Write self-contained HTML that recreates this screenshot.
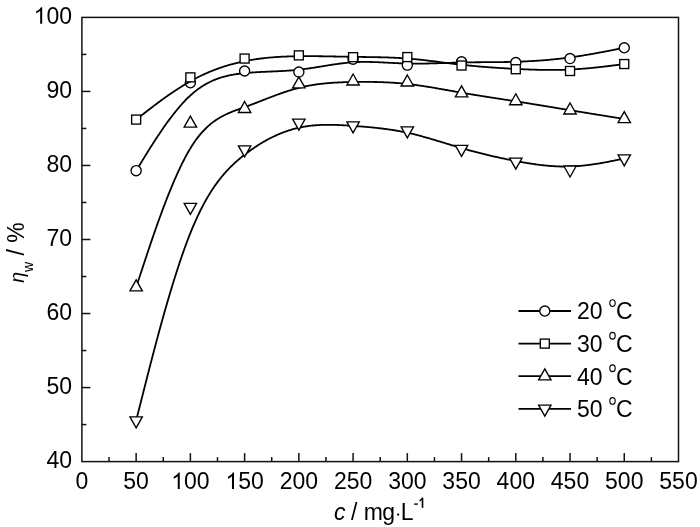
<!DOCTYPE html>
<html><head><meta charset="utf-8"><style>
html,body{margin:0;padding:0;background:#fff;}
svg{display:block;will-change:transform;}
text{font-family:"Liberation Sans", sans-serif;fill:#000;}
.t{font-size:23px;}
</style></head><body>
<svg width="700" height="527" viewBox="0 0 700 527">
<rect width="700" height="527" fill="#fff"/>
<rect x="81.9" y="17.4" width="596.6" height="444.20000000000005" fill="none" stroke="#111" stroke-width="1.5"/>
<line x1="109.02" y1="461.6" x2="109.02" y2="457.1" stroke="#111" stroke-width="1.5"/>
<line x1="136.14" y1="461.6" x2="136.14" y2="453.1" stroke="#111" stroke-width="1.5"/>
<line x1="163.25" y1="461.6" x2="163.25" y2="457.1" stroke="#111" stroke-width="1.5"/>
<line x1="190.37" y1="461.6" x2="190.37" y2="453.1" stroke="#111" stroke-width="1.5"/>
<line x1="217.49" y1="461.6" x2="217.49" y2="457.1" stroke="#111" stroke-width="1.5"/>
<line x1="244.61" y1="461.6" x2="244.61" y2="453.1" stroke="#111" stroke-width="1.5"/>
<line x1="271.73" y1="461.6" x2="271.73" y2="457.1" stroke="#111" stroke-width="1.5"/>
<line x1="298.85" y1="461.6" x2="298.85" y2="453.1" stroke="#111" stroke-width="1.5"/>
<line x1="325.96" y1="461.6" x2="325.96" y2="457.1" stroke="#111" stroke-width="1.5"/>
<line x1="353.08" y1="461.6" x2="353.08" y2="453.1" stroke="#111" stroke-width="1.5"/>
<line x1="380.20" y1="461.6" x2="380.20" y2="457.1" stroke="#111" stroke-width="1.5"/>
<line x1="407.32" y1="461.6" x2="407.32" y2="453.1" stroke="#111" stroke-width="1.5"/>
<line x1="434.44" y1="461.6" x2="434.44" y2="457.1" stroke="#111" stroke-width="1.5"/>
<line x1="461.55" y1="461.6" x2="461.55" y2="453.1" stroke="#111" stroke-width="1.5"/>
<line x1="488.67" y1="461.6" x2="488.67" y2="457.1" stroke="#111" stroke-width="1.5"/>
<line x1="515.79" y1="461.6" x2="515.79" y2="453.1" stroke="#111" stroke-width="1.5"/>
<line x1="542.91" y1="461.6" x2="542.91" y2="457.1" stroke="#111" stroke-width="1.5"/>
<line x1="570.03" y1="461.6" x2="570.03" y2="453.1" stroke="#111" stroke-width="1.5"/>
<line x1="597.15" y1="461.6" x2="597.15" y2="457.1" stroke="#111" stroke-width="1.5"/>
<line x1="624.26" y1="461.6" x2="624.26" y2="453.1" stroke="#111" stroke-width="1.5"/>
<line x1="651.38" y1="461.6" x2="651.38" y2="457.1" stroke="#111" stroke-width="1.5"/>
<line x1="81.9" y1="424.58" x2="86.4" y2="424.58" stroke="#111" stroke-width="1.5"/>
<line x1="81.9" y1="387.57" x2="90.4" y2="387.57" stroke="#111" stroke-width="1.5"/>
<line x1="81.9" y1="350.55" x2="86.4" y2="350.55" stroke="#111" stroke-width="1.5"/>
<line x1="81.9" y1="313.53" x2="90.4" y2="313.53" stroke="#111" stroke-width="1.5"/>
<line x1="81.9" y1="276.52" x2="86.4" y2="276.52" stroke="#111" stroke-width="1.5"/>
<line x1="81.9" y1="239.50" x2="90.4" y2="239.50" stroke="#111" stroke-width="1.5"/>
<line x1="81.9" y1="202.48" x2="86.4" y2="202.48" stroke="#111" stroke-width="1.5"/>
<line x1="81.9" y1="165.47" x2="90.4" y2="165.47" stroke="#111" stroke-width="1.5"/>
<line x1="81.9" y1="128.45" x2="86.4" y2="128.45" stroke="#111" stroke-width="1.5"/>
<line x1="81.9" y1="91.43" x2="90.4" y2="91.43" stroke="#111" stroke-width="1.5"/>
<line x1="81.9" y1="54.42" x2="86.4" y2="54.42" stroke="#111" stroke-width="1.5"/>
<text x="81.90" y="489" text-anchor="middle" class="t">0</text>
<text x="136.14" y="489" text-anchor="middle" class="t">50</text>
<text x="183.98" y="489" class="t">00</text>
<path d="M177.74,489.00 L179.76,489.00 L179.76,472.54 L178.45,472.54 L178.04,473.39 L177.26,474.23 L176.02,475.24 L174.90,475.97 L173.70,476.65 L173.70,478.65 L174.78,478.16 L176.13,477.38 L177.74,476.20 Z" fill="#000"/>
<text x="238.22" y="489" class="t">50</text>
<path d="M231.97,489.00 L234.00,489.00 L234.00,472.54 L232.68,472.54 L232.28,473.39 L231.49,474.23 L230.26,475.24 L229.13,475.97 L227.93,476.65 L227.93,478.65 L229.02,478.16 L230.37,477.38 L231.97,476.20 Z" fill="#000"/>
<text x="298.85" y="489" text-anchor="middle" class="t">200</text>
<text x="353.08" y="489" text-anchor="middle" class="t">250</text>
<text x="407.32" y="489" text-anchor="middle" class="t">300</text>
<text x="461.55" y="489" text-anchor="middle" class="t">350</text>
<text x="515.79" y="489" text-anchor="middle" class="t">400</text>
<text x="570.03" y="489" text-anchor="middle" class="t">450</text>
<text x="624.26" y="489" text-anchor="middle" class="t">500</text>
<text x="678.50" y="489" text-anchor="middle" class="t">550</text>
<text x="72" y="467.90" text-anchor="end" class="t">40</text>
<text x="72" y="393.87" text-anchor="end" class="t">50</text>
<text x="72" y="319.83" text-anchor="end" class="t">60</text>
<text x="72" y="245.80" text-anchor="end" class="t">70</text>
<text x="72" y="171.77" text-anchor="end" class="t">80</text>
<text x="72" y="97.73" text-anchor="end" class="t">90</text>
<text x="46.42" y="23.70" class="t">00</text>
<path d="M40.18,23.70 L42.20,23.70 L42.20,7.24 L40.89,7.24 L40.49,8.09 L39.70,8.93 L38.47,9.94 L37.34,10.67 L36.14,11.35 L36.14,13.35 L37.23,12.86 L38.58,12.08 L40.18,10.90 Z" fill="#000"/>
<path d="M136.14,170.65 L136.14,170.65 L136.14,170.65 L136.14,170.65 L136.14,170.64 L136.14,170.64 L136.15,170.63 L136.16,170.62 L136.17,170.60 L136.18,170.58 L136.19,170.56 L136.21,170.53 L136.23,170.49 L136.26,170.45 L136.29,170.40 L136.33,170.34 L136.37,170.28 L136.41,170.20 L136.46,170.12 L136.52,170.03 L136.58,169.92 L136.65,169.81 L136.73,169.68 L136.82,169.55 L136.91,169.40 L137.01,169.23 L137.12,169.05 L137.24,168.86 L137.37,168.66 L137.50,168.44 L137.65,168.20 L137.80,167.95 L137.97,167.68 L138.15,167.39 L138.34,167.08 L138.54,166.76 L138.75,166.42 L138.97,166.05 L139.21,165.67 L139.46,165.27 L139.72,164.84 L139.99,164.40 L140.28,163.93 L140.59,163.44 L140.91,162.92 L141.24,162.38 L141.59,161.82 L141.95,161.23 L142.33,160.62 L142.72,159.98 L143.13,159.31 L143.56,158.62 L144.01,157.90 L144.47,157.15 L144.95,156.37 L145.45,155.56 L145.97,154.72 L146.50,153.86 L147.05,152.96 L147.62,152.04 L148.21,151.10 L148.81,150.13 L149.43,149.14 L150.06,148.13 L150.71,147.10 L151.38,146.04 L152.06,144.97 L152.75,143.88 L153.46,142.77 L154.18,141.65 L154.92,140.51 L155.67,139.36 L156.43,138.20 L157.20,137.02 L157.99,135.83 L158.78,134.64 L159.59,133.43 L160.41,132.22 L161.24,131.00 L162.08,129.77 L162.93,128.54 L163.79,127.31 L164.66,126.07 L165.54,124.83 L166.43,123.59 L167.32,122.35 L168.23,121.12 L169.14,119.88 L170.06,118.65 L170.99,117.42 L171.92,116.20 L172.86,114.99 L173.80,113.78 L174.75,112.58 L175.71,111.39 L176.67,110.21 L177.64,109.04 L178.61,107.89 L179.58,106.74 L180.56,105.62 L181.54,104.51 L182.52,103.41 L183.51,102.33 L184.50,101.28 L185.49,100.24 L186.48,99.22 L187.48,98.22 L188.47,97.25 L189.47,96.30 L190.46,95.37 L191.46,94.47 L192.46,93.60 L193.45,92.75 L194.45,91.92 L195.44,91.12 L196.44,90.34 L197.44,89.59 L198.43,88.86 L199.43,88.15 L200.42,87.46 L201.42,86.80 L202.42,86.15 L203.41,85.53 L204.41,84.93 L205.40,84.35 L206.40,83.78 L207.40,83.24 L208.39,82.72 L209.39,82.21 L210.38,81.72 L211.38,81.25 L212.38,80.80 L213.37,80.37 L214.37,79.95 L215.36,79.55 L216.36,79.16 L217.36,78.79 L218.35,78.43 L219.35,78.09 L220.34,77.76 L221.34,77.45 L222.34,77.15 L223.33,76.86 L224.33,76.59 L225.32,76.33 L226.32,76.08 L227.32,75.84 L228.31,75.61 L229.31,75.40 L230.30,75.19 L231.30,74.99 L232.29,74.81 L233.29,74.63 L234.29,74.46 L235.28,74.30 L236.28,74.15 L237.27,74.00 L238.27,73.87 L239.27,73.74 L240.26,73.61 L241.26,73.49 L242.25,73.38 L243.25,73.27 L244.25,73.17 L245.24,73.07 L246.24,72.98 L247.23,72.89 L248.23,72.80 L249.23,72.72 L250.22,72.64 L251.22,72.57 L252.21,72.50 L253.21,72.43 L254.21,72.36 L255.20,72.30 L256.20,72.24 L257.19,72.18 L258.19,72.12 L259.19,72.07 L260.18,72.02 L261.18,71.97 L262.17,71.92 L263.17,71.87 L264.17,71.82 L265.16,71.78 L266.16,71.73 L267.15,71.69 L268.15,71.65 L269.15,71.60 L270.14,71.56 L271.14,71.52 L272.13,71.48 L273.13,71.44 L274.13,71.39 L275.12,71.35 L276.12,71.30 L277.11,71.26 L278.11,71.21 L279.11,71.17 L280.10,71.12 L281.10,71.07 L282.09,71.01 L283.09,70.96 L284.09,70.90 L285.08,70.84 L286.08,70.78 L287.07,70.72 L288.07,70.65 L289.07,70.58 L290.06,70.51 L291.06,70.44 L292.05,70.36 L293.05,70.28 L294.05,70.19 L295.04,70.10 L296.04,70.01 L297.03,69.91 L298.03,69.80 L299.03,69.70 L300.02,69.59 L301.02,69.47 L302.01,69.35 L303.01,69.22 L304.01,69.09 L305.00,68.96 L306.00,68.83 L306.99,68.69 L307.99,68.55 L308.99,68.40 L309.98,68.25 L310.98,68.10 L311.97,67.95 L312.97,67.80 L313.97,67.64 L314.96,67.49 L315.96,67.33 L316.95,67.17 L317.95,67.01 L318.95,66.84 L319.94,66.68 L320.94,66.52 L321.93,66.36 L322.93,66.19 L323.93,66.03 L324.92,65.87 L325.92,65.70 L326.91,65.54 L327.91,65.38 L328.91,65.22 L329.90,65.07 L330.90,64.91 L331.89,64.76 L332.89,64.61 L333.89,64.46 L334.88,64.31 L335.88,64.16 L336.87,64.02 L337.87,63.88 L338.87,63.75 L339.86,63.62 L340.86,63.49 L341.85,63.36 L342.85,63.24 L343.85,63.13 L344.84,63.02 L345.84,62.91 L346.83,62.81 L347.83,62.71 L348.83,62.62 L349.82,62.53 L350.82,62.45 L351.81,62.38 L352.81,62.31 L353.81,62.24 L354.80,62.19 L355.80,62.14 L356.79,62.09 L357.79,62.05 L358.79,62.02 L359.78,61.99 L360.78,61.97 L361.77,61.95 L362.77,61.94 L363.77,61.93 L364.76,61.93 L365.76,61.93 L366.75,61.93 L367.75,61.94 L368.75,61.96 L369.74,61.97 L370.74,61.99 L371.73,62.01 L372.73,62.04 L373.73,62.07 L374.72,62.10 L375.72,62.14 L376.71,62.17 L377.71,62.21 L378.71,62.25 L379.70,62.29 L380.70,62.34 L381.69,62.39 L382.69,62.43 L383.69,62.48 L384.68,62.53 L385.68,62.58 L386.67,62.63 L387.67,62.68 L388.67,62.74 L389.66,62.79 L390.66,62.84 L391.65,62.89 L392.65,62.94 L393.65,62.99 L394.64,63.04 L395.64,63.09 L396.63,63.14 L397.63,63.19 L398.63,63.24 L399.62,63.28 L400.62,63.32 L401.61,63.36 L402.61,63.40 L403.61,63.44 L404.60,63.47 L405.60,63.50 L406.59,63.53 L407.59,63.55 L408.59,63.58 L409.58,63.60 L410.58,63.61 L411.57,63.62 L412.57,63.64 L413.57,63.64 L414.56,63.65 L415.56,63.65 L416.55,63.65 L417.55,63.65 L418.55,63.65 L419.54,63.64 L420.54,63.63 L421.53,63.62 L422.53,63.61 L423.53,63.59 L424.52,63.58 L425.52,63.56 L426.51,63.54 L427.51,63.52 L428.51,63.50 L429.50,63.47 L430.50,63.45 L431.49,63.42 L432.49,63.40 L433.49,63.37 L434.48,63.34 L435.48,63.31 L436.47,63.28 L437.47,63.25 L438.47,63.21 L439.46,63.18 L440.46,63.15 L441.45,63.12 L442.45,63.08 L443.45,63.05 L444.44,63.01 L445.44,62.98 L446.43,62.94 L447.43,62.91 L448.43,62.88 L449.42,62.84 L450.42,62.81 L451.41,62.78 L452.41,62.74 L453.41,62.71 L454.40,62.68 L455.40,62.65 L456.39,62.62 L457.39,62.59 L458.39,62.57 L459.38,62.54 L460.38,62.51 L461.37,62.49 L462.37,62.47 L463.37,62.45 L464.36,62.43 L465.36,62.41 L466.35,62.39 L467.35,62.37 L468.35,62.36 L469.34,62.34 L470.34,62.33 L471.33,62.32 L472.33,62.30 L473.33,62.29 L474.32,62.28 L475.32,62.27 L476.31,62.26 L477.31,62.25 L478.31,62.25 L479.30,62.24 L480.30,62.23 L481.29,62.22 L482.29,62.22 L483.29,62.21 L484.28,62.20 L485.28,62.20 L486.27,62.19 L487.27,62.18 L488.27,62.18 L489.26,62.17 L490.26,62.16 L491.25,62.16 L492.25,62.15 L493.25,62.14 L494.24,62.14 L495.24,62.13 L496.23,62.12 L497.23,62.11 L498.23,62.10 L499.22,62.09 L500.22,62.08 L501.21,62.07 L502.21,62.05 L503.21,62.04 L504.20,62.02 L505.20,62.01 L506.19,61.99 L507.19,61.98 L508.19,61.96 L509.18,61.94 L510.18,61.92 L511.17,61.89 L512.17,61.87 L513.17,61.84 L514.16,61.82 L515.16,61.79 L516.15,61.76 L517.15,61.73 L518.15,61.70 L519.14,61.66 L520.14,61.62 L521.13,61.59 L522.13,61.55 L523.13,61.51 L524.12,61.46 L525.12,61.42 L526.11,61.37 L527.11,61.32 L528.11,61.27 L529.10,61.22 L530.10,61.17 L531.09,61.11 L532.09,61.06 L533.08,61.00 L534.08,60.94 L535.08,60.88 L536.07,60.81 L537.07,60.75 L538.06,60.68 L539.06,60.61 L540.06,60.54 L541.05,60.46 L542.05,60.39 L543.04,60.31 L544.04,60.23 L545.04,60.15 L546.03,60.07 L547.03,59.98 L548.02,59.89 L549.02,59.80 L550.02,59.71 L551.01,59.62 L552.01,59.52 L553.00,59.43 L554.00,59.33 L555.00,59.22 L555.99,59.12 L556.99,59.02 L557.98,58.91 L558.98,58.80 L559.98,58.68 L560.97,58.57 L561.97,58.45 L562.96,58.33 L563.96,58.21 L564.96,58.09 L565.95,57.96 L566.95,57.84 L567.94,57.71 L568.94,57.57 L569.94,57.44 L570.93,57.30 L571.93,57.16 L572.92,57.02 L573.92,56.88 L574.91,56.73 L575.90,56.59 L576.89,56.44 L577.88,56.29 L578.86,56.14 L579.84,55.99 L580.82,55.83 L581.79,55.68 L582.76,55.52 L583.73,55.36 L584.69,55.21 L585.65,55.05 L586.60,54.89 L587.54,54.73 L588.48,54.57 L589.41,54.41 L590.34,54.25 L591.26,54.09 L592.17,53.93 L593.08,53.77 L593.97,53.61 L594.86,53.45 L595.74,53.29 L596.61,53.13 L597.47,52.98 L598.32,52.82 L599.16,52.66 L599.99,52.51 L600.81,52.36 L601.62,52.21 L602.41,52.06 L603.20,51.91 L603.97,51.76 L604.73,51.61 L605.48,51.47 L606.22,51.33 L606.94,51.19 L607.65,51.05 L608.34,50.92 L609.02,50.78 L609.69,50.65 L610.34,50.52 L610.97,50.40 L611.59,50.28 L612.19,50.16 L612.78,50.04 L613.35,49.93 L613.90,49.82 L614.43,49.71 L614.95,49.61 L615.45,49.51 L615.93,49.41 L616.39,49.32 L616.84,49.23 L617.27,49.15 L617.68,49.07 L618.07,48.99 L618.45,48.91 L618.81,48.84 L619.16,48.77 L619.49,48.70 L619.81,48.64 L620.12,48.58 L620.41,48.52 L620.68,48.47 L620.94,48.42 L621.19,48.37 L621.43,48.32 L621.65,48.27 L621.86,48.23 L622.06,48.19 L622.25,48.15 L622.43,48.12 L622.60,48.09 L622.75,48.05 L622.90,48.03 L623.03,48.00 L623.16,47.97 L623.28,47.95 L623.39,47.93 L623.49,47.91 L623.58,47.89 L623.67,47.87 L623.75,47.86 L623.82,47.84 L623.88,47.83 L623.94,47.82 L623.99,47.81 L624.03,47.80 L624.07,47.79 L624.11,47.78 L624.14,47.78 L624.17,47.77 L624.19,47.77 L624.21,47.76 L624.22,47.76 L624.23,47.76 L624.24,47.76 L624.25,47.76 L624.26,47.76 L624.26,47.75 L624.26,47.75 L624.26,47.75 L624.26,47.75 L624.26,47.75" fill="none" stroke="#000" stroke-width="1.8"/>
<circle cx="136.14" cy="170.65" r="5.05" fill="#fff" stroke="#000" stroke-width="1.35"/>
<circle cx="190.37" cy="82.77" r="5.05" fill="#fff" stroke="#000" stroke-width="1.35"/>
<circle cx="244.61" cy="71.00" r="5.05" fill="#fff" stroke="#000" stroke-width="1.35"/>
<circle cx="298.85" cy="72.04" r="5.05" fill="#fff" stroke="#000" stroke-width="1.35"/>
<circle cx="353.08" cy="59.15" r="5.05" fill="#fff" stroke="#000" stroke-width="1.35"/>
<circle cx="407.32" cy="65.08" r="5.05" fill="#fff" stroke="#000" stroke-width="1.35"/>
<circle cx="461.55" cy="61.82" r="5.05" fill="#fff" stroke="#000" stroke-width="1.35"/>
<circle cx="515.79" cy="62.56" r="5.05" fill="#fff" stroke="#000" stroke-width="1.35"/>
<circle cx="570.03" cy="58.56" r="5.05" fill="#fff" stroke="#000" stroke-width="1.35"/>
<circle cx="624.26" cy="47.75" r="5.05" fill="#fff" stroke="#000" stroke-width="1.35"/>
<path d="M136.14,119.57 L136.14,119.57 L136.14,119.57 L136.14,119.56 L136.14,119.56 L136.14,119.56 L136.15,119.56 L136.16,119.55 L136.17,119.54 L136.18,119.53 L136.19,119.52 L136.21,119.51 L136.23,119.49 L136.26,119.47 L136.29,119.45 L136.33,119.42 L136.37,119.39 L136.41,119.35 L136.46,119.31 L136.52,119.27 L136.58,119.22 L136.65,119.16 L136.73,119.10 L136.82,119.04 L136.91,118.96 L137.01,118.89 L137.12,118.80 L137.24,118.71 L137.37,118.61 L137.50,118.50 L137.65,118.39 L137.80,118.27 L137.97,118.14 L138.15,118.00 L138.34,117.85 L138.54,117.70 L138.75,117.53 L138.97,117.36 L139.21,117.18 L139.46,116.98 L139.72,116.78 L139.99,116.56 L140.28,116.34 L140.59,116.10 L140.91,115.86 L141.24,115.60 L141.59,115.33 L141.95,115.04 L142.33,114.75 L142.72,114.44 L143.13,114.12 L143.56,113.79 L144.01,113.44 L144.47,113.08 L144.95,112.71 L145.45,112.32 L145.97,111.92 L146.50,111.50 L147.05,111.07 L147.62,110.63 L148.21,110.18 L148.81,109.71 L149.43,109.23 L150.06,108.74 L150.71,108.24 L151.38,107.73 L152.06,107.22 L152.75,106.69 L153.46,106.15 L154.18,105.60 L154.92,105.04 L155.67,104.48 L156.43,103.91 L157.20,103.33 L157.99,102.75 L158.78,102.16 L159.59,101.56 L160.41,100.96 L161.24,100.35 L162.08,99.74 L162.93,99.12 L163.79,98.50 L164.66,97.88 L165.54,97.25 L166.43,96.62 L167.32,95.99 L168.23,95.35 L169.14,94.72 L170.06,94.08 L170.99,93.45 L171.92,92.81 L172.86,92.17 L173.80,91.54 L174.75,90.90 L175.71,90.27 L176.67,89.64 L177.64,89.01 L178.61,88.38 L179.58,87.76 L180.56,87.14 L181.54,86.52 L182.52,85.91 L183.51,85.30 L184.50,84.70 L185.49,84.10 L186.48,83.51 L187.48,82.93 L188.47,82.35 L189.47,81.78 L190.46,81.22 L191.46,80.66 L192.46,80.11 L193.45,79.57 L194.45,79.04 L195.44,78.52 L196.44,78.00 L197.44,77.49 L198.43,76.99 L199.43,76.49 L200.42,76.01 L201.42,75.53 L202.42,75.06 L203.41,74.59 L204.41,74.13 L205.40,73.68 L206.40,73.24 L207.40,72.81 L208.39,72.38 L209.39,71.95 L210.38,71.54 L211.38,71.13 L212.38,70.73 L213.37,70.34 L214.37,69.95 L215.36,69.57 L216.36,69.19 L217.36,68.83 L218.35,68.47 L219.35,68.11 L220.34,67.76 L221.34,67.42 L222.34,67.09 L223.33,66.76 L224.33,66.44 L225.32,66.12 L226.32,65.81 L227.32,65.51 L228.31,65.21 L229.31,64.92 L230.30,64.63 L231.30,64.35 L232.29,64.08 L233.29,63.81 L234.29,63.55 L235.28,63.29 L236.28,63.04 L237.27,62.80 L238.27,62.56 L239.27,62.33 L240.26,62.10 L241.26,61.88 L242.25,61.66 L243.25,61.45 L244.25,61.24 L245.24,61.04 L246.24,60.84 L247.23,60.65 L248.23,60.47 L249.23,60.29 L250.22,60.11 L251.22,59.94 L252.21,59.77 L253.21,59.61 L254.21,59.46 L255.20,59.30 L256.20,59.16 L257.19,59.01 L258.19,58.87 L259.19,58.74 L260.18,58.61 L261.18,58.49 L262.17,58.36 L263.17,58.25 L264.17,58.13 L265.16,58.02 L266.16,57.92 L267.15,57.82 L268.15,57.72 L269.15,57.63 L270.14,57.54 L271.14,57.45 L272.13,57.37 L273.13,57.29 L274.13,57.21 L275.12,57.14 L276.12,57.07 L277.11,57.00 L278.11,56.94 L279.11,56.88 L280.10,56.82 L281.10,56.76 L282.09,56.71 L283.09,56.66 L284.09,56.62 L285.08,56.57 L286.08,56.53 L287.07,56.49 L288.07,56.46 L289.07,56.42 L290.06,56.39 L291.06,56.36 L292.05,56.34 L293.05,56.31 L294.05,56.29 L295.04,56.27 L296.04,56.25 L297.03,56.23 L298.03,56.22 L299.03,56.20 L300.02,56.19 L301.02,56.18 L302.01,56.17 L303.01,56.17 L304.01,56.16 L305.00,56.16 L306.00,56.15 L306.99,56.15 L307.99,56.15 L308.99,56.15 L309.98,56.16 L310.98,56.16 L311.97,56.16 L312.97,56.17 L313.97,56.18 L314.96,56.19 L315.96,56.20 L316.95,56.21 L317.95,56.22 L318.95,56.23 L319.94,56.24 L320.94,56.25 L321.93,56.27 L322.93,56.28 L323.93,56.30 L324.92,56.31 L325.92,56.33 L326.91,56.35 L327.91,56.37 L328.91,56.38 L329.90,56.40 L330.90,56.42 L331.89,56.44 L332.89,56.46 L333.89,56.48 L334.88,56.50 L335.88,56.52 L336.87,56.54 L337.87,56.56 L338.87,56.58 L339.86,56.60 L340.86,56.62 L341.85,56.64 L342.85,56.66 L343.85,56.68 L344.84,56.70 L345.84,56.72 L346.83,56.74 L347.83,56.76 L348.83,56.78 L349.82,56.79 L350.82,56.81 L351.81,56.83 L352.81,56.84 L353.81,56.86 L354.80,56.87 L355.80,56.89 L356.79,56.90 L357.79,56.92 L358.79,56.93 L359.78,56.94 L360.78,56.95 L361.77,56.97 L362.77,56.98 L363.77,56.99 L364.76,57.01 L365.76,57.02 L366.75,57.03 L367.75,57.04 L368.75,57.06 L369.74,57.07 L370.74,57.09 L371.73,57.10 L372.73,57.12 L373.73,57.13 L374.72,57.15 L375.72,57.17 L376.71,57.19 L377.71,57.20 L378.71,57.23 L379.70,57.25 L380.70,57.27 L381.69,57.29 L382.69,57.32 L383.69,57.34 L384.68,57.37 L385.68,57.40 L386.67,57.43 L387.67,57.46 L388.67,57.50 L389.66,57.53 L390.66,57.57 L391.65,57.61 L392.65,57.65 L393.65,57.69 L394.64,57.73 L395.64,57.78 L396.63,57.83 L397.63,57.88 L398.63,57.93 L399.62,57.99 L400.62,58.05 L401.61,58.11 L402.61,58.17 L403.61,58.23 L404.60,58.30 L405.60,58.37 L406.59,58.45 L407.59,58.52 L408.59,58.60 L409.58,58.68 L410.58,58.77 L411.57,58.85 L412.57,58.94 L413.57,59.04 L414.56,59.13 L415.56,59.23 L416.55,59.33 L417.55,59.43 L418.55,59.53 L419.54,59.63 L420.54,59.74 L421.53,59.85 L422.53,59.96 L423.53,60.07 L424.52,60.19 L425.52,60.30 L426.51,60.42 L427.51,60.53 L428.51,60.65 L429.50,60.77 L430.50,60.89 L431.49,61.02 L432.49,61.14 L433.49,61.26 L434.48,61.39 L435.48,61.51 L436.47,61.64 L437.47,61.76 L438.47,61.89 L439.46,62.02 L440.46,62.14 L441.45,62.27 L442.45,62.40 L443.45,62.52 L444.44,62.65 L445.44,62.78 L446.43,62.90 L447.43,63.03 L448.43,63.15 L449.42,63.28 L450.42,63.40 L451.41,63.53 L452.41,63.65 L453.41,63.77 L454.40,63.90 L455.40,64.02 L456.39,64.13 L457.39,64.25 L458.39,64.37 L459.38,64.49 L460.38,64.60 L461.37,64.71 L462.37,64.82 L463.37,64.93 L464.36,65.04 L465.36,65.15 L466.35,65.25 L467.35,65.35 L468.35,65.46 L469.34,65.56 L470.34,65.65 L471.33,65.75 L472.33,65.85 L473.33,65.94 L474.32,66.04 L475.32,66.13 L476.31,66.22 L477.31,66.31 L478.31,66.39 L479.30,66.48 L480.30,66.57 L481.29,66.65 L482.29,66.73 L483.29,66.81 L484.28,66.89 L485.28,66.97 L486.27,67.05 L487.27,67.13 L488.27,67.20 L489.26,67.28 L490.26,67.35 L491.25,67.42 L492.25,67.49 L493.25,67.56 L494.24,67.63 L495.24,67.70 L496.23,67.77 L497.23,67.83 L498.23,67.90 L499.22,67.96 L500.22,68.03 L501.21,68.09 L502.21,68.15 L503.21,68.21 L504.20,68.27 L505.20,68.33 L506.19,68.39 L507.19,68.44 L508.19,68.50 L509.18,68.55 L510.18,68.61 L511.17,68.66 L512.17,68.72 L513.17,68.77 L514.16,68.82 L515.16,68.87 L516.15,68.92 L517.15,68.97 L518.15,69.02 L519.14,69.07 L520.14,69.12 L521.13,69.16 L522.13,69.21 L523.13,69.25 L524.12,69.30 L525.12,69.34 L526.11,69.38 L527.11,69.42 L528.11,69.46 L529.10,69.50 L530.10,69.54 L531.09,69.57 L532.09,69.61 L533.08,69.64 L534.08,69.67 L535.08,69.70 L536.07,69.73 L537.07,69.76 L538.06,69.79 L539.06,69.81 L540.06,69.83 L541.05,69.85 L542.05,69.87 L543.04,69.89 L544.04,69.91 L545.04,69.92 L546.03,69.93 L547.03,69.94 L548.02,69.95 L549.02,69.96 L550.02,69.96 L551.01,69.96 L552.01,69.96 L553.00,69.96 L554.00,69.96 L555.00,69.95 L555.99,69.94 L556.99,69.93 L557.98,69.92 L558.98,69.90 L559.98,69.88 L560.97,69.86 L561.97,69.84 L562.96,69.81 L563.96,69.78 L564.96,69.75 L565.95,69.71 L566.95,69.68 L567.94,69.64 L568.94,69.59 L569.94,69.55 L570.93,69.50 L571.93,69.45 L572.92,69.39 L573.92,69.34 L574.91,69.28 L575.90,69.21 L576.89,69.15 L577.88,69.08 L578.86,69.01 L579.84,68.94 L580.82,68.87 L581.79,68.80 L582.76,68.72 L583.73,68.64 L584.69,68.56 L585.65,68.48 L586.60,68.40 L587.54,68.31 L588.48,68.23 L589.41,68.14 L590.34,68.05 L591.26,67.96 L592.17,67.88 L593.08,67.79 L593.97,67.70 L594.86,67.60 L595.74,67.51 L596.61,67.42 L597.47,67.33 L598.32,67.24 L599.16,67.14 L599.99,67.05 L600.81,66.96 L601.62,66.87 L602.41,66.78 L603.20,66.69 L603.97,66.60 L604.73,66.51 L605.48,66.42 L606.22,66.33 L606.94,66.24 L607.65,66.16 L608.34,66.07 L609.02,65.99 L609.69,65.90 L610.34,65.82 L610.97,65.74 L611.59,65.66 L612.19,65.59 L612.78,65.51 L613.35,65.44 L613.90,65.37 L614.43,65.30 L614.95,65.24 L615.45,65.17 L615.93,65.11 L616.39,65.05 L616.84,64.99 L617.27,64.94 L617.68,64.89 L618.07,64.84 L618.45,64.79 L618.81,64.74 L619.16,64.70 L619.49,64.65 L619.81,64.61 L620.12,64.57 L620.41,64.54 L620.68,64.50 L620.94,64.47 L621.19,64.44 L621.43,64.40 L621.65,64.38 L621.86,64.35 L622.06,64.32 L622.25,64.30 L622.43,64.28 L622.60,64.25 L622.75,64.23 L622.90,64.22 L623.03,64.20 L623.16,64.18 L623.28,64.17 L623.39,64.15 L623.49,64.14 L623.58,64.13 L623.67,64.12 L623.75,64.11 L623.82,64.10 L623.88,64.09 L623.94,64.08 L623.99,64.08 L624.03,64.07 L624.07,64.07 L624.11,64.06 L624.14,64.06 L624.17,64.05 L624.19,64.05 L624.21,64.05 L624.22,64.05 L624.23,64.04 L624.24,64.04 L624.25,64.04 L624.26,64.04 L624.26,64.04 L624.26,64.04 L624.26,64.04 L624.26,64.04 L624.26,64.04" fill="none" stroke="#000" stroke-width="1.8"/>
<rect x="131.64" y="115.07" width="9.0" height="9.0" fill="#fff" stroke="#000" stroke-width="1.35"/>
<rect x="185.87" y="72.87" width="9.0" height="9.0" fill="#fff" stroke="#000" stroke-width="1.35"/>
<rect x="240.11" y="54.06" width="9.0" height="9.0" fill="#fff" stroke="#000" stroke-width="1.35"/>
<rect x="294.35" y="50.88" width="9.0" height="9.0" fill="#fff" stroke="#000" stroke-width="1.35"/>
<rect x="348.58" y="52.66" width="9.0" height="9.0" fill="#fff" stroke="#000" stroke-width="1.35"/>
<rect x="402.82" y="52.58" width="9.0" height="9.0" fill="#fff" stroke="#000" stroke-width="1.35"/>
<rect x="457.05" y="61.02" width="9.0" height="9.0" fill="#fff" stroke="#000" stroke-width="1.35"/>
<rect x="511.29" y="64.72" width="9.0" height="9.0" fill="#fff" stroke="#000" stroke-width="1.35"/>
<rect x="565.53" y="66.50" width="9.0" height="9.0" fill="#fff" stroke="#000" stroke-width="1.35"/>
<rect x="619.76" y="59.54" width="9.0" height="9.0" fill="#fff" stroke="#000" stroke-width="1.35"/>
<path d="M136.14,287.23 L136.14,287.23 L136.14,287.23 L136.14,287.23 L136.14,287.22 L136.14,287.21 L136.15,287.20 L136.16,287.18 L136.17,287.15 L136.18,287.11 L136.19,287.06 L136.21,287.01 L136.23,286.94 L136.26,286.86 L136.29,286.77 L136.33,286.66 L136.37,286.54 L136.41,286.40 L136.46,286.25 L136.52,286.07 L136.58,285.88 L136.65,285.67 L136.73,285.43 L136.82,285.18 L136.91,284.90 L137.01,284.59 L137.12,284.26 L137.24,283.91 L137.37,283.52 L137.50,283.11 L137.65,282.67 L137.80,282.20 L137.97,281.70 L138.15,281.16 L138.34,280.59 L138.54,279.99 L138.75,279.35 L138.97,278.67 L139.21,277.96 L139.46,277.21 L139.72,276.42 L139.99,275.58 L140.28,274.71 L140.59,273.80 L140.91,272.84 L141.24,271.83 L141.59,270.78 L141.95,269.69 L142.33,268.54 L142.72,267.35 L143.13,266.11 L143.56,264.81 L144.01,263.47 L144.47,262.07 L144.95,260.62 L145.45,259.11 L145.97,257.55 L146.50,255.94 L147.05,254.28 L147.62,252.57 L148.21,250.81 L148.81,249.01 L149.43,247.16 L150.06,245.28 L150.71,243.35 L151.38,241.39 L152.06,239.40 L152.75,237.37 L153.46,235.31 L154.18,233.22 L154.92,231.11 L155.67,228.97 L156.43,226.80 L157.20,224.62 L157.99,222.41 L158.78,220.19 L159.59,217.96 L160.41,215.70 L161.24,213.44 L162.08,211.17 L162.93,208.89 L163.79,206.61 L164.66,204.32 L165.54,202.03 L166.43,199.74 L167.32,197.45 L168.23,195.17 L169.14,192.89 L170.06,190.62 L170.99,188.36 L171.92,186.11 L172.86,183.87 L173.80,181.65 L174.75,179.45 L175.71,177.27 L176.67,175.10 L177.64,172.97 L178.61,170.85 L179.58,168.77 L180.56,166.71 L181.54,164.69 L182.52,162.69 L183.51,160.74 L184.50,158.81 L185.49,156.93 L186.48,155.09 L187.48,153.29 L188.47,151.54 L189.47,149.83 L190.46,148.17 L191.46,146.57 L192.46,145.01 L193.45,143.49 L194.45,142.03 L195.44,140.61 L196.44,139.24 L197.44,137.91 L198.43,136.63 L199.43,135.38 L200.42,134.18 L201.42,133.02 L202.42,131.90 L203.41,130.82 L204.41,129.77 L205.40,128.76 L206.40,127.79 L207.40,126.85 L208.39,125.94 L209.39,125.07 L210.38,124.23 L211.38,123.41 L212.38,122.63 L213.37,121.88 L214.37,121.15 L215.36,120.45 L216.36,119.78 L217.36,119.13 L218.35,118.50 L219.35,117.90 L220.34,117.32 L221.34,116.76 L222.34,116.22 L223.33,115.69 L224.33,115.19 L225.32,114.70 L226.32,114.23 L227.32,113.77 L228.31,113.33 L229.31,112.90 L230.30,112.48 L231.30,112.07 L232.29,111.67 L233.29,111.28 L234.29,110.90 L235.28,110.52 L236.28,110.15 L237.27,109.79 L238.27,109.43 L239.27,109.07 L240.26,108.71 L241.26,108.36 L242.25,108.00 L243.25,107.65 L244.25,107.29 L245.24,106.93 L246.24,106.57 L247.23,106.20 L248.23,105.83 L249.23,105.46 L250.22,105.08 L251.22,104.71 L252.21,104.33 L253.21,103.95 L254.21,103.56 L255.20,103.18 L256.20,102.79 L257.19,102.41 L258.19,102.02 L259.19,101.63 L260.18,101.24 L261.18,100.85 L262.17,100.46 L263.17,100.08 L264.17,99.69 L265.16,99.30 L266.16,98.91 L267.15,98.53 L268.15,98.14 L269.15,97.76 L270.14,97.37 L271.14,96.99 L272.13,96.61 L273.13,96.24 L274.13,95.86 L275.12,95.49 L276.12,95.12 L277.11,94.75 L278.11,94.39 L279.11,94.03 L280.10,93.67 L281.10,93.32 L282.09,92.97 L283.09,92.63 L284.09,92.28 L285.08,91.95 L286.08,91.61 L287.07,91.29 L288.07,90.96 L289.07,90.65 L290.06,90.34 L291.06,90.03 L292.05,89.73 L293.05,89.43 L294.05,89.15 L295.04,88.86 L296.04,88.59 L297.03,88.32 L298.03,88.06 L299.03,87.80 L300.02,87.56 L301.02,87.32 L302.01,87.08 L303.01,86.86 L304.01,86.64 L305.00,86.43 L306.00,86.22 L306.99,86.02 L307.99,85.83 L308.99,85.64 L309.98,85.46 L310.98,85.29 L311.97,85.12 L312.97,84.96 L313.97,84.80 L314.96,84.65 L315.96,84.50 L316.95,84.36 L317.95,84.23 L318.95,84.10 L319.94,83.97 L320.94,83.85 L321.93,83.74 L322.93,83.63 L323.93,83.52 L324.92,83.42 L325.92,83.33 L326.91,83.24 L327.91,83.15 L328.91,83.06 L329.90,82.98 L330.90,82.91 L331.89,82.84 L332.89,82.77 L333.89,82.70 L334.88,82.64 L335.88,82.58 L336.87,82.53 L337.87,82.48 L338.87,82.43 L339.86,82.38 L340.86,82.34 L341.85,82.30 L342.85,82.26 L343.85,82.22 L344.84,82.19 L345.84,82.16 L346.83,82.13 L347.83,82.10 L348.83,82.08 L349.82,82.05 L350.82,82.03 L351.81,82.01 L352.81,81.99 L353.81,81.98 L354.80,81.96 L355.80,81.95 L356.79,81.93 L357.79,81.92 L358.79,81.91 L359.78,81.90 L360.78,81.89 L361.77,81.89 L362.77,81.88 L363.77,81.88 L364.76,81.88 L365.76,81.88 L366.75,81.88 L367.75,81.89 L368.75,81.90 L369.74,81.90 L370.74,81.91 L371.73,81.93 L372.73,81.94 L373.73,81.96 L374.72,81.98 L375.72,82.00 L376.71,82.02 L377.71,82.04 L378.71,82.07 L379.70,82.10 L380.70,82.13 L381.69,82.17 L382.69,82.20 L383.69,82.24 L384.68,82.28 L385.68,82.33 L386.67,82.37 L387.67,82.42 L388.67,82.47 L389.66,82.53 L390.66,82.58 L391.65,82.64 L392.65,82.70 L393.65,82.77 L394.64,82.84 L395.64,82.91 L396.63,82.98 L397.63,83.06 L398.63,83.14 L399.62,83.22 L400.62,83.31 L401.61,83.39 L402.61,83.49 L403.61,83.58 L404.60,83.68 L405.60,83.78 L406.59,83.88 L407.59,83.99 L408.59,84.10 L409.58,84.22 L410.58,84.34 L411.57,84.46 L412.57,84.58 L413.57,84.71 L414.56,84.84 L415.56,84.97 L416.55,85.10 L417.55,85.24 L418.55,85.38 L419.54,85.53 L420.54,85.67 L421.53,85.82 L422.53,85.97 L423.53,86.12 L424.52,86.27 L425.52,86.43 L426.51,86.59 L427.51,86.74 L428.51,86.91 L429.50,87.07 L430.50,87.23 L431.49,87.40 L432.49,87.57 L433.49,87.73 L434.48,87.90 L435.48,88.07 L436.47,88.25 L437.47,88.42 L438.47,88.59 L439.46,88.77 L440.46,88.94 L441.45,89.12 L442.45,89.30 L443.45,89.47 L444.44,89.65 L445.44,89.83 L446.43,90.01 L447.43,90.19 L448.43,90.37 L449.42,90.55 L450.42,90.72 L451.41,90.90 L452.41,91.08 L453.41,91.26 L454.40,91.44 L455.40,91.62 L456.39,91.79 L457.39,91.97 L458.39,92.15 L459.38,92.32 L460.38,92.49 L461.37,92.67 L462.37,92.84 L463.37,93.01 L464.36,93.18 L465.36,93.35 L466.35,93.52 L467.35,93.69 L468.35,93.85 L469.34,94.02 L470.34,94.19 L471.33,94.35 L472.33,94.51 L473.33,94.68 L474.32,94.84 L475.32,95.00 L476.31,95.16 L477.31,95.32 L478.31,95.48 L479.30,95.64 L480.30,95.80 L481.29,95.96 L482.29,96.12 L483.29,96.27 L484.28,96.43 L485.28,96.59 L486.27,96.74 L487.27,96.90 L488.27,97.05 L489.26,97.21 L490.26,97.36 L491.25,97.52 L492.25,97.67 L493.25,97.83 L494.24,97.98 L495.24,98.14 L496.23,98.29 L497.23,98.44 L498.23,98.60 L499.22,98.75 L500.22,98.90 L501.21,99.06 L502.21,99.21 L503.21,99.36 L504.20,99.52 L505.20,99.67 L506.19,99.83 L507.19,99.98 L508.19,100.14 L509.18,100.29 L510.18,100.44 L511.17,100.60 L512.17,100.76 L513.17,100.91 L514.16,101.07 L515.16,101.22 L516.15,101.38 L517.15,101.54 L518.15,101.70 L519.14,101.85 L520.14,102.01 L521.13,102.17 L522.13,102.33 L523.13,102.49 L524.12,102.65 L525.12,102.81 L526.11,102.97 L527.11,103.13 L528.11,103.29 L529.10,103.46 L530.10,103.62 L531.09,103.78 L532.09,103.94 L533.08,104.10 L534.08,104.27 L535.08,104.43 L536.07,104.59 L537.07,104.76 L538.06,104.92 L539.06,105.09 L540.06,105.25 L541.05,105.41 L542.05,105.58 L543.04,105.74 L544.04,105.91 L545.04,106.07 L546.03,106.24 L547.03,106.40 L548.02,106.57 L549.02,106.73 L550.02,106.90 L551.01,107.06 L552.01,107.23 L553.00,107.39 L554.00,107.56 L555.00,107.72 L555.99,107.89 L556.99,108.05 L557.98,108.22 L558.98,108.38 L559.98,108.55 L560.97,108.71 L561.97,108.88 L562.96,109.04 L563.96,109.21 L564.96,109.37 L565.95,109.54 L566.95,109.70 L567.94,109.87 L568.94,110.03 L569.94,110.19 L570.93,110.36 L571.93,110.52 L572.92,110.68 L573.92,110.85 L574.91,111.01 L575.90,111.17 L576.89,111.33 L577.88,111.49 L578.86,111.65 L579.84,111.81 L580.82,111.97 L581.79,112.13 L582.76,112.29 L583.73,112.45 L584.69,112.60 L585.65,112.76 L586.60,112.91 L587.54,113.07 L588.48,113.22 L589.41,113.37 L590.34,113.52 L591.26,113.67 L592.17,113.81 L593.08,113.96 L593.97,114.10 L594.86,114.25 L595.74,114.39 L596.61,114.53 L597.47,114.67 L598.32,114.80 L599.16,114.94 L599.99,115.07 L600.81,115.21 L601.62,115.33 L602.41,115.46 L603.20,115.59 L603.97,115.71 L604.73,115.83 L605.48,115.95 L606.22,116.07 L606.94,116.19 L607.65,116.30 L608.34,116.41 L609.02,116.52 L609.69,116.63 L610.34,116.73 L610.97,116.83 L611.59,116.93 L612.19,117.03 L612.78,117.12 L613.35,117.21 L613.90,117.30 L614.43,117.39 L614.95,117.47 L615.45,117.55 L615.93,117.63 L616.39,117.70 L616.84,117.77 L617.27,117.84 L617.68,117.90 L618.07,117.97 L618.45,118.03 L618.81,118.09 L619.16,118.14 L619.49,118.19 L619.81,118.25 L620.12,118.29 L620.41,118.34 L620.68,118.38 L620.94,118.43 L621.19,118.47 L621.43,118.50 L621.65,118.54 L621.86,118.57 L622.06,118.60 L622.25,118.63 L622.43,118.66 L622.60,118.69 L622.75,118.71 L622.90,118.74 L623.03,118.76 L623.16,118.78 L623.28,118.80 L623.39,118.82 L623.49,118.83 L623.58,118.85 L623.67,118.86 L623.75,118.87 L623.82,118.88 L623.88,118.89 L623.94,118.90 L623.99,118.91 L624.03,118.92 L624.07,118.93 L624.11,118.93 L624.14,118.94 L624.17,118.94 L624.19,118.94 L624.21,118.95 L624.22,118.95 L624.23,118.95 L624.24,118.95 L624.25,118.95 L624.26,118.96 L624.26,118.96 L624.26,118.96 L624.26,118.96 L624.26,118.96 L624.26,118.96" fill="none" stroke="#000" stroke-width="1.8"/>
<path d="M136.14,279.90 L142.34,290.90 L129.94,290.90 Z" fill="#fff" stroke="#000" stroke-width="1.35" stroke-linejoin="miter"/>
<path d="M190.37,116.14 L196.57,127.14 L184.17,127.14 Z" fill="#fff" stroke="#000" stroke-width="1.35" stroke-linejoin="miter"/>
<path d="M244.61,101.48 L250.81,112.48 L238.41,112.48 Z" fill="#fff" stroke="#000" stroke-width="1.35" stroke-linejoin="miter"/>
<path d="M298.85,76.90 L305.05,87.90 L292.65,87.90 Z" fill="#fff" stroke="#000" stroke-width="1.35" stroke-linejoin="miter"/>
<path d="M353.08,74.01 L359.28,85.01 L346.88,85.01 Z" fill="#fff" stroke="#000" stroke-width="1.35" stroke-linejoin="miter"/>
<path d="M407.32,74.98 L413.52,85.98 L401.12,85.98 Z" fill="#fff" stroke="#000" stroke-width="1.35" stroke-linejoin="miter"/>
<path d="M461.55,85.86 L467.75,96.86 L455.35,96.86 Z" fill="#fff" stroke="#000" stroke-width="1.35" stroke-linejoin="miter"/>
<path d="M515.79,93.78 L521.99,104.78 L509.59,104.78 Z" fill="#fff" stroke="#000" stroke-width="1.35" stroke-linejoin="miter"/>
<path d="M570.03,102.96 L576.23,113.96 L563.83,113.96 Z" fill="#fff" stroke="#000" stroke-width="1.35" stroke-linejoin="miter"/>
<path d="M624.26,111.62 L630.46,122.62 L618.06,122.62 Z" fill="#fff" stroke="#000" stroke-width="1.35" stroke-linejoin="miter"/>
<path d="M136.14,420.53 L136.14,420.53 L136.14,420.53 L136.14,420.52 L136.14,420.51 L136.14,420.50 L136.15,420.48 L136.16,420.45 L136.17,420.42 L136.18,420.37 L136.19,420.31 L136.21,420.24 L136.23,420.15 L136.26,420.04 L136.29,419.92 L136.33,419.79 L136.37,419.63 L136.41,419.45 L136.46,419.24 L136.52,419.02 L136.58,418.77 L136.65,418.49 L136.73,418.18 L136.82,417.85 L136.91,417.48 L137.01,417.09 L137.12,416.66 L137.24,416.19 L137.37,415.69 L137.50,415.15 L137.65,414.58 L137.80,413.96 L137.97,413.31 L138.15,412.61 L138.34,411.87 L138.54,411.08 L138.75,410.25 L138.97,409.37 L139.21,408.44 L139.46,407.46 L139.72,406.42 L139.99,405.34 L140.28,404.20 L140.59,403.01 L140.91,401.76 L141.24,400.45 L141.59,399.08 L141.95,397.65 L142.33,396.16 L142.72,394.60 L143.13,392.98 L143.56,391.30 L144.01,389.54 L144.47,387.72 L144.95,385.83 L145.45,383.86 L145.97,381.83 L146.50,379.73 L147.05,377.56 L147.62,375.32 L148.21,373.03 L148.81,370.68 L149.43,368.27 L150.06,365.80 L150.71,363.28 L151.38,360.71 L152.06,358.10 L152.75,355.44 L153.46,352.73 L154.18,349.98 L154.92,347.20 L155.67,344.38 L156.43,341.52 L157.20,338.64 L157.99,335.72 L158.78,332.78 L159.59,329.81 L160.41,326.82 L161.24,323.80 L162.08,320.77 L162.93,317.73 L163.79,314.67 L164.66,311.60 L165.54,308.52 L166.43,305.43 L167.32,302.34 L168.23,299.25 L169.14,296.16 L170.06,293.07 L170.99,289.98 L171.92,286.90 L172.86,283.83 L173.80,280.78 L174.75,277.73 L175.71,274.71 L176.67,271.70 L177.64,268.71 L178.61,265.74 L179.58,262.81 L180.56,259.89 L181.54,257.01 L182.52,254.16 L183.51,251.35 L184.50,248.57 L185.49,245.83 L186.48,243.13 L187.48,240.48 L188.47,237.87 L189.47,235.31 L190.46,232.80 L191.46,230.34 L192.46,227.94 L193.45,225.58 L194.45,223.28 L195.44,221.03 L196.44,218.82 L197.44,216.66 L198.43,214.55 L199.43,212.49 L200.42,210.47 L201.42,208.49 L202.42,206.56 L203.41,204.68 L204.41,202.83 L205.40,201.03 L206.40,199.27 L207.40,197.55 L208.39,195.86 L209.39,194.22 L210.38,192.61 L211.38,191.05 L212.38,189.51 L213.37,188.02 L214.37,186.55 L215.36,185.12 L216.36,183.73 L217.36,182.37 L218.35,181.04 L219.35,179.73 L220.34,178.46 L221.34,177.22 L222.34,176.01 L223.33,174.83 L224.33,173.67 L225.32,172.54 L226.32,171.43 L227.32,170.35 L228.31,169.29 L229.31,168.25 L230.30,167.24 L231.30,166.25 L232.29,165.28 L233.29,164.33 L234.29,163.40 L235.28,162.49 L236.28,161.59 L237.27,160.71 L238.27,159.85 L239.27,159.00 L240.26,158.17 L241.26,157.35 L242.25,156.55 L243.25,155.75 L244.25,154.97 L245.24,154.20 L246.24,153.44 L247.23,152.69 L248.23,151.95 L249.23,151.22 L250.22,150.50 L251.22,149.79 L252.21,149.09 L253.21,148.40 L254.21,147.72 L255.20,147.05 L256.20,146.39 L257.19,145.75 L258.19,145.11 L259.19,144.48 L260.18,143.86 L261.18,143.26 L262.17,142.66 L263.17,142.07 L264.17,141.50 L265.16,140.93 L266.16,140.38 L267.15,139.83 L268.15,139.30 L269.15,138.77 L270.14,138.25 L271.14,137.75 L272.13,137.26 L273.13,136.77 L274.13,136.30 L275.12,135.83 L276.12,135.38 L277.11,134.93 L278.11,134.50 L279.11,134.08 L280.10,133.66 L281.10,133.26 L282.09,132.86 L283.09,132.48 L284.09,132.11 L285.08,131.74 L286.08,131.39 L287.07,131.04 L288.07,130.71 L289.07,130.39 L290.06,130.07 L291.06,129.77 L292.05,129.48 L293.05,129.19 L294.05,128.92 L295.04,128.66 L296.04,128.40 L297.03,128.16 L298.03,127.92 L299.03,127.70 L300.02,127.49 L301.02,127.28 L302.01,127.09 L303.01,126.90 L304.01,126.72 L305.00,126.56 L306.00,126.40 L306.99,126.25 L307.99,126.11 L308.99,125.97 L309.98,125.85 L310.98,125.73 L311.97,125.62 L312.97,125.52 L313.97,125.43 L314.96,125.34 L315.96,125.26 L316.95,125.19 L317.95,125.13 L318.95,125.07 L319.94,125.02 L320.94,124.97 L321.93,124.93 L322.93,124.90 L323.93,124.87 L324.92,124.85 L325.92,124.83 L326.91,124.82 L327.91,124.82 L328.91,124.82 L329.90,124.82 L330.90,124.83 L331.89,124.84 L332.89,124.86 L333.89,124.88 L334.88,124.91 L335.88,124.94 L336.87,124.97 L337.87,125.01 L338.87,125.05 L339.86,125.09 L340.86,125.14 L341.85,125.19 L342.85,125.24 L343.85,125.30 L344.84,125.35 L345.84,125.41 L346.83,125.47 L347.83,125.53 L348.83,125.60 L349.82,125.66 L350.82,125.73 L351.81,125.80 L352.81,125.87 L353.81,125.94 L354.80,126.01 L355.80,126.08 L356.79,126.16 L357.79,126.23 L358.79,126.30 L359.78,126.38 L360.78,126.46 L361.77,126.54 L362.77,126.62 L363.77,126.70 L364.76,126.78 L365.76,126.87 L366.75,126.95 L367.75,127.04 L368.75,127.13 L369.74,127.22 L370.74,127.32 L371.73,127.41 L372.73,127.51 L373.73,127.61 L374.72,127.71 L375.72,127.82 L376.71,127.92 L377.71,128.03 L378.71,128.15 L379.70,128.26 L380.70,128.38 L381.69,128.50 L382.69,128.62 L383.69,128.74 L384.68,128.87 L385.68,129.00 L386.67,129.14 L387.67,129.28 L388.67,129.42 L389.66,129.56 L390.66,129.71 L391.65,129.86 L392.65,130.01 L393.65,130.17 L394.64,130.33 L395.64,130.50 L396.63,130.67 L397.63,130.84 L398.63,131.02 L399.62,131.20 L400.62,131.38 L401.61,131.57 L402.61,131.76 L403.61,131.96 L404.60,132.16 L405.60,132.37 L406.59,132.58 L407.59,132.80 L408.59,133.02 L409.58,133.24 L410.58,133.47 L411.57,133.70 L412.57,133.94 L413.57,134.18 L414.56,134.42 L415.56,134.67 L416.55,134.92 L417.55,135.18 L418.55,135.44 L419.54,135.70 L420.54,135.96 L421.53,136.23 L422.53,136.50 L423.53,136.78 L424.52,137.05 L425.52,137.33 L426.51,137.61 L427.51,137.90 L428.51,138.18 L429.50,138.47 L430.50,138.76 L431.49,139.05 L432.49,139.34 L433.49,139.64 L434.48,139.93 L435.48,140.23 L436.47,140.53 L437.47,140.83 L438.47,141.13 L439.46,141.43 L440.46,141.73 L441.45,142.04 L442.45,142.34 L443.45,142.64 L444.44,142.95 L445.44,143.25 L446.43,143.56 L447.43,143.86 L448.43,144.16 L449.42,144.47 L450.42,144.77 L451.41,145.07 L452.41,145.37 L453.41,145.67 L454.40,145.97 L455.40,146.27 L456.39,146.57 L457.39,146.87 L458.39,147.16 L459.38,147.45 L460.38,147.74 L461.37,148.03 L462.37,148.32 L463.37,148.61 L464.36,148.89 L465.36,149.17 L466.35,149.45 L467.35,149.73 L468.35,150.01 L469.34,150.28 L470.34,150.55 L471.33,150.82 L472.33,151.09 L473.33,151.36 L474.32,151.62 L475.32,151.89 L476.31,152.15 L477.31,152.40 L478.31,152.66 L479.30,152.92 L480.30,153.17 L481.29,153.42 L482.29,153.67 L483.29,153.92 L484.28,154.17 L485.28,154.41 L486.27,154.65 L487.27,154.89 L488.27,155.13 L489.26,155.37 L490.26,155.60 L491.25,155.84 L492.25,156.07 L493.25,156.30 L494.24,156.52 L495.24,156.75 L496.23,156.97 L497.23,157.20 L498.23,157.42 L499.22,157.64 L500.22,157.85 L501.21,158.07 L502.21,158.28 L503.21,158.49 L504.20,158.70 L505.20,158.91 L506.19,159.12 L507.19,159.32 L508.19,159.52 L509.18,159.73 L510.18,159.93 L511.17,160.12 L512.17,160.32 L513.17,160.51 L514.16,160.71 L515.16,160.90 L516.15,161.09 L517.15,161.27 L518.15,161.46 L519.14,161.64 L520.14,161.82 L521.13,162.00 L522.13,162.18 L523.13,162.36 L524.12,162.53 L525.12,162.70 L526.11,162.87 L527.11,163.03 L528.11,163.20 L529.10,163.36 L530.10,163.51 L531.09,163.67 L532.09,163.82 L533.08,163.97 L534.08,164.11 L535.08,164.25 L536.07,164.39 L537.07,164.53 L538.06,164.66 L539.06,164.79 L540.06,164.91 L541.05,165.03 L542.05,165.15 L543.04,165.26 L544.04,165.37 L545.04,165.47 L546.03,165.57 L547.03,165.67 L548.02,165.76 L549.02,165.85 L550.02,165.93 L551.01,166.01 L552.01,166.08 L553.00,166.15 L554.00,166.21 L555.00,166.27 L555.99,166.32 L556.99,166.37 L557.98,166.41 L558.98,166.45 L559.98,166.48 L560.97,166.51 L561.97,166.53 L562.96,166.55 L563.96,166.56 L564.96,166.56 L565.95,166.56 L566.95,166.55 L567.94,166.53 L568.94,166.51 L569.94,166.49 L570.93,166.45 L571.93,166.41 L572.92,166.37 L573.92,166.32 L574.91,166.26 L575.90,166.20 L576.89,166.13 L577.88,166.06 L578.86,165.98 L579.84,165.90 L580.82,165.81 L581.79,165.72 L582.76,165.62 L583.73,165.53 L584.69,165.42 L585.65,165.32 L586.60,165.21 L587.54,165.09 L588.48,164.98 L589.41,164.86 L590.34,164.74 L591.26,164.61 L592.17,164.48 L593.08,164.36 L593.97,164.22 L594.86,164.09 L595.74,163.96 L596.61,163.82 L597.47,163.69 L598.32,163.55 L599.16,163.41 L599.99,163.27 L600.81,163.13 L601.62,162.99 L602.41,162.85 L603.20,162.71 L603.97,162.57 L604.73,162.44 L605.48,162.30 L606.22,162.16 L606.94,162.02 L607.65,161.89 L608.34,161.76 L609.02,161.62 L609.69,161.49 L610.34,161.36 L610.97,161.24 L611.59,161.11 L612.19,160.99 L612.78,160.88 L613.35,160.76 L613.90,160.65 L614.43,160.54 L614.95,160.43 L615.45,160.33 L615.93,160.23 L616.39,160.14 L616.84,160.05 L617.27,159.96 L617.68,159.87 L618.07,159.79 L618.45,159.72 L618.81,159.64 L619.16,159.57 L619.49,159.50 L619.81,159.44 L620.12,159.37 L620.41,159.32 L620.68,159.26 L620.94,159.20 L621.19,159.15 L621.43,159.11 L621.65,159.06 L621.86,159.02 L622.06,158.98 L622.25,158.94 L622.43,158.90 L622.60,158.87 L622.75,158.83 L622.90,158.80 L623.03,158.78 L623.16,158.75 L623.28,158.73 L623.39,158.70 L623.49,158.68 L623.58,158.66 L623.67,158.65 L623.75,158.63 L623.82,158.62 L623.88,158.60 L623.94,158.59 L623.99,158.58 L624.03,158.57 L624.07,158.56 L624.11,158.56 L624.14,158.55 L624.17,158.54 L624.19,158.54 L624.21,158.54 L624.22,158.53 L624.23,158.53 L624.24,158.53 L624.25,158.53 L624.26,158.53 L624.26,158.53 L624.26,158.53 L624.26,158.53 L624.26,158.53 L624.26,158.53" fill="none" stroke="#000" stroke-width="1.8"/>
<path d="M136.14,427.86 L142.34,416.86 L129.94,416.86 Z" fill="#fff" stroke="#000" stroke-width="1.35" stroke-linejoin="miter"/>
<path d="M190.37,214.35 L196.57,203.35 L184.17,203.35 Z" fill="#fff" stroke="#000" stroke-width="1.35" stroke-linejoin="miter"/>
<path d="M244.61,156.90 L250.81,145.90 L238.41,145.90 Z" fill="#fff" stroke="#000" stroke-width="1.35" stroke-linejoin="miter"/>
<path d="M298.85,130.17 L305.05,119.17 L292.65,119.17 Z" fill="#fff" stroke="#000" stroke-width="1.35" stroke-linejoin="miter"/>
<path d="M353.08,132.84 L359.28,121.84 L346.88,121.84 Z" fill="#fff" stroke="#000" stroke-width="1.35" stroke-linejoin="miter"/>
<path d="M407.32,137.80 L413.52,126.80 L401.12,126.80 Z" fill="#fff" stroke="#000" stroke-width="1.35" stroke-linejoin="miter"/>
<path d="M461.55,156.38 L467.75,145.38 L455.35,145.38 Z" fill="#fff" stroke="#000" stroke-width="1.35" stroke-linejoin="miter"/>
<path d="M515.79,169.19 L521.99,158.19 L509.59,158.19 Z" fill="#fff" stroke="#000" stroke-width="1.35" stroke-linejoin="miter"/>
<path d="M570.03,176.96 L576.23,165.96 L563.83,165.96 Z" fill="#fff" stroke="#000" stroke-width="1.35" stroke-linejoin="miter"/>
<path d="M624.26,165.86 L630.46,154.86 L618.06,154.86 Z" fill="#fff" stroke="#000" stroke-width="1.35" stroke-linejoin="miter"/>
<line x1="518.5" y1="311.0" x2="571" y2="311.0" stroke="#000" stroke-width="1.8"/>
<circle cx="544.80" cy="311.00" r="5.05" fill="#fff" stroke="#000" stroke-width="1.35"/>
<text x="577" y="319.40" class="t">20</text>
<ellipse cx="612.5" cy="303.10" rx="2.7" ry="3.35" fill="none" stroke="#000" stroke-width="1.15"/>
<text x="616" y="319.40" class="t">C</text>
<line x1="518.5" y1="343.6" x2="571" y2="343.6" stroke="#000" stroke-width="1.8"/>
<rect x="540.30" y="339.10" width="9.0" height="9.0" fill="#fff" stroke="#000" stroke-width="1.35"/>
<text x="577" y="352.00" class="t">30</text>
<ellipse cx="612.5" cy="335.70" rx="2.7" ry="3.35" fill="none" stroke="#000" stroke-width="1.15"/>
<text x="616" y="352.00" class="t">C</text>
<line x1="518.5" y1="376.2" x2="571" y2="376.2" stroke="#000" stroke-width="1.8"/>
<path d="M544.80,368.87 L551.00,379.87 L538.60,379.87 Z" fill="#fff" stroke="#000" stroke-width="1.35" stroke-linejoin="miter"/>
<text x="577" y="384.60" class="t">40</text>
<ellipse cx="612.5" cy="368.30" rx="2.7" ry="3.35" fill="none" stroke="#000" stroke-width="1.15"/>
<text x="616" y="384.60" class="t">C</text>
<line x1="518.5" y1="408.8" x2="571" y2="408.8" stroke="#000" stroke-width="1.8"/>
<path d="M544.80,416.13 L551.00,405.13 L538.60,405.13 Z" fill="#fff" stroke="#000" stroke-width="1.35" stroke-linejoin="miter"/>
<text x="577" y="417.20" class="t">50</text>
<ellipse cx="612.5" cy="400.90" rx="2.7" ry="3.35" fill="none" stroke="#000" stroke-width="1.15"/>
<text x="616" y="417.20" class="t">C</text>
<text x="334" y="519.6" class="t" style="font-style:italic">c</text>
<text x="351.1" y="519.6" class="t">/ m<tspan dx="-0.8">g</tspan></text>
<circle cx="398.1" cy="514.6" r="1.15" fill="#000"/>
<text x="400.7" y="519.6" class="t">L</text>
<rect x="414.2" y="503.4" width="3.6" height="1.4" fill="#000"/>
<path d="M421.8,497.8 h1.4 v10 h-1.4 z M422.4,498.2 L419.6,500.8" stroke="#000" stroke-width="0.2" fill="#000"/><path d="M422.6,498.2 L419.6,500.9" stroke="#000" stroke-width="1.3" fill="none"/>
<g transform="translate(24.3,252.5) rotate(-90)"><text x="0" y="0" class="t" text-anchor="middle"><tspan style="font-style:italic;font-size:19.5px">η</tspan><tspan style="font-size:14px" dy="8.5">w</tspan><tspan dy="-8.5"> / %</tspan></text></g>
</svg></body></html>
